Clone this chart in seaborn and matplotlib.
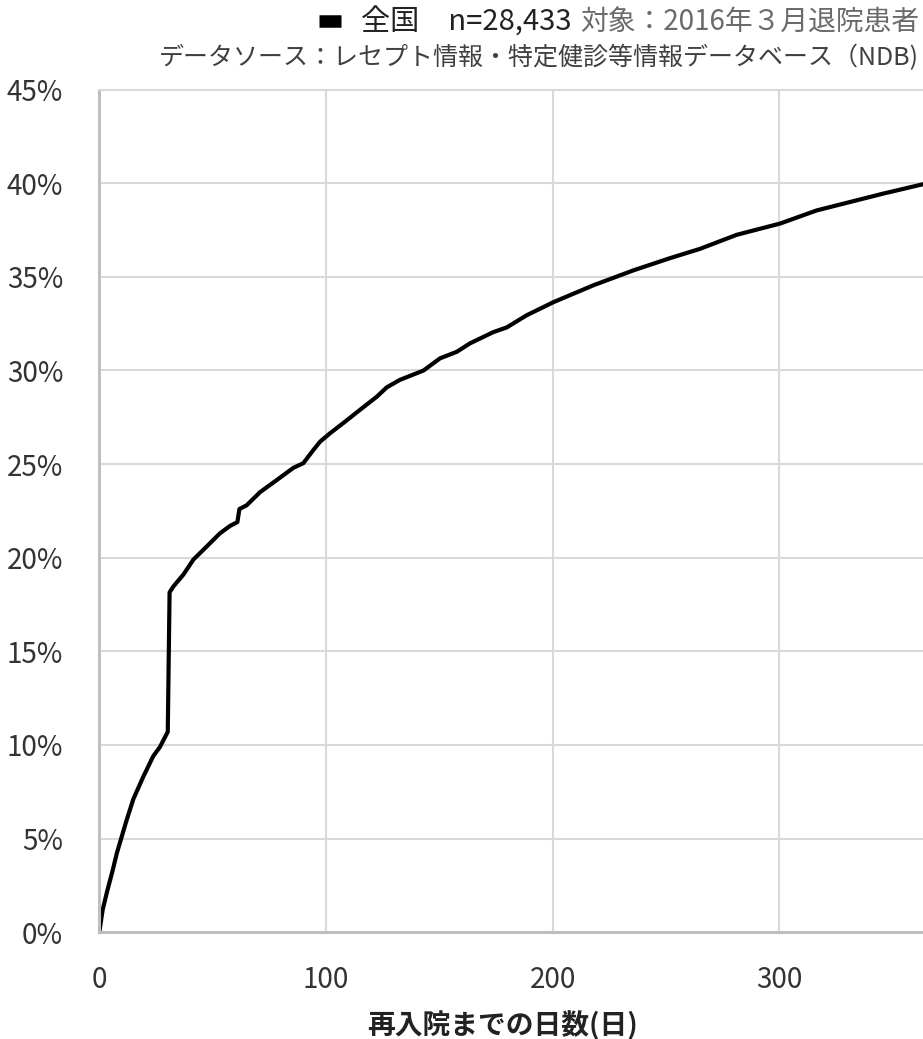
import numpy as np
import pandas as pd
import matplotlib
matplotlib.use("Agg")
import matplotlib.pyplot as plt
import seaborn as sns
from matplotlib.ticker import PercentFormatter, MultipleLocator

# ─── Data ────────────────────────────────────────────────────────────────────
days = [0, 1.5, 3.3, 5.9, 7.7, 9.4, 12.1, 15.0, 19.4, 23.8, 26.8, 30.2,
        31.0, 32.6, 35.0, 37.1, 41.5, 47.4, 53.2, 57.7, 60.9, 61.8, 65.0,
        70.9, 78.3, 85.6, 90.0, 94.4, 97.4, 101.8, 107.7, 115.0, 122.4,
        126.8, 132.6, 143.0, 150.3, 157.7, 163.5, 173.8, 179.7, 188.5,
        200.3, 217.9, 235.6, 251.7, 265.0, 281.2, 300.3, 316.4, 331.1,
        345.8, 363.3, 365]
readmit_pct = [0, 1.2, 2.1, 3.3, 4.2, 4.9, 6.0, 7.1, 8.3, 9.4, 9.9, 10.7,
               18.15, 18.45, 18.8, 19.1, 19.9, 20.6, 21.3, 21.7, 21.9, 22.6,
               22.8, 23.5, 24.15, 24.8, 25.05, 25.75, 26.2, 26.65, 27.2, 27.9,
               28.6, 29.1, 29.5, 30.0, 30.65, 31.0, 31.45, 32.05, 32.3, 32.95,
               33.65, 34.55, 35.35, 36.0, 36.5, 37.25, 37.85, 38.55, 39.0,
               39.45, 39.95, 40.0]

series_label = "全国　n=28,433"
subject_text = "対象：2016年３月退院患者"
source_text = "データソース：レセプト情報・特定健診等情報データベース（NDB)"
x_label = "再入院までの日数(日)"

df = pd.DataFrame({"days": days, "rate": np.array(readmit_pct) / 100})

# ─── Style ───────────────────────────────────────────────────────────────────
sns.set_theme(style="whitegrid")
plt.rcParams["font.family"] = ["Noto Sans CJK JP", "DejaVu Sans"]

W, H = 923, 1039
fig = plt.figure(figsize=(W / 100, H / 100), dpi=100)
ax = fig.add_axes([99.3 / W, 1 - 932.1 / H, 827.5 / W, (932.1 - 89.7) / H])

sns.lineplot(data=df, x="days", y="rate", color="black", linewidth=3,
             label=series_label, ax=ax)

ax.set_xlim(0, 365)
ax.set_ylim(0, 0.45)
ax.xaxis.set_major_locator(MultipleLocator(100))
ax.yaxis.set_major_locator(MultipleLocator(0.05))
ax.yaxis.set_major_formatter(PercentFormatter(1.0, decimals=0))

grid_c = "#d9d9d9"
ax.grid(True, color=grid_c, linewidth=1.5)
ax.set_facecolor("white")
for side in ["left", "bottom"]:
    ax.spines[side].set_color("#bfbfbf")
    ax.spines[side].set_linewidth(2.2)
ax.spines["top"].set_color(grid_c)
ax.spines["top"].set_linewidth(1.5)
ax.spines["right"].set_visible(False)

ax.tick_params(axis="x", length=0, pad=24, labelsize=20, labelcolor="#333333")
ax.tick_params(axis="y", length=0, pad=26, labelsize=20, labelcolor="#333333")
ax.set_xlabel("")
ax.set_ylabel("")

# Legend at the top, marker drawn as a short thick bar
leg = ax.legend(loc="center right", bbox_to_anchor=(572 / W, 1 - 23 / H),
                bbox_transform=fig.transFigure, frameon=False, fontsize=21,
                handlelength=0.75, handletextpad=0.7, borderpad=0,
                borderaxespad=0)
for h in leg.legend_handles:
    h.set_linewidth(9)
    h.set_solid_capstyle("butt")
for t in leg.get_texts():
    t.set_color("#222222")

fig.text(919 / W, 1 - 23 / H, subject_text, ha="right", va="center",
         fontsize=20, color="#6b6b6b")
fig.text(919 / W, 1 - 58 / H, source_text, ha="right", va="center",
         fontsize=18, color="#404040")

fig.text(503 / W, 1 - 1026 / H, x_label, ha="center", va="center",
         fontsize=20, fontweight="bold", color="#222222")

fig.savefig("out.png", dpi=100)
plt.close(fig)
